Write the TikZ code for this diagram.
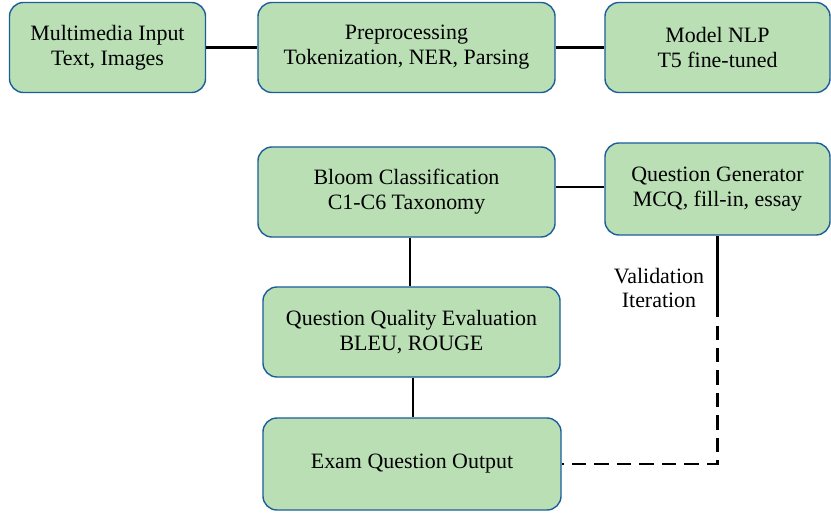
\documentclass[tikz,border=0pt]{standalone}
\usepackage{fontspec}
\setmainfont{LiberationSerif}[Extension=.ttf, UprightFont=*-Regular,
  BoldFont=*-Bold, ItalicFont=*-Italic, BoldItalicFont=*-BoldItalic]
\definecolor{boxFill}{HTML}{BADFB5}
\definecolor{boxEdge}{HTML}{1B5E9B}
\usepackage{tikz}
\usetikzlibrary{positioning, calc}

\tikzset{
  stage/.style={rounded corners=10pt, fill=boxFill, draw=boxEdge, line width=1pt,
    align=center, inner sep=2pt, minimum height=2.25cm,
    font=\fontsize{15.6}{17.7}\selectfont},
  link/.style={line width=1.9pt, black},
  loopback/.style={link, dash pattern=on 10pt off 6pt}
}

\begin{document}
\begin{tikzpicture}[x=0.025cm, y=-0.025cm]
  \useasboundingbox (0,0) rectangle (831,513);

  % top row
  \node[stage, minimum width=4.9cm] (input) at (107.5,47.5) {Multimedia Input\\Text, Images};
  \node[stage, minimum width=7.425cm] (prep) at (406.5,47.5) {Preprocessing\\Tokenization, NER, Parsing};
  \node[stage, minimum width=5.625cm] (model) at (717.5,47.5) {Model NLP\\T5 fine-tuned};

  % lower part
  \node[stage, minimum width=7.425cm] (bloom) at (406.5,192) {Bloom Classification\\C1-C6 Taxonomy};
  \node[stage, minimum width=5.625cm, minimum height=2.3cm] (qgen) at (717.5,189) {Question Generator\\MCQ, fill-in, essay};
  \node[stage, minimum width=7.425cm] (quality) at (411.5,332) {Question Quality Evaluation\\BLEU, ROUGE};
  \node[stage, minimum width=7.45cm, minimum height=2.3cm] (exam) at (412,464) {Exam Question Output};

  \node[align=center, font=\fontsize{15.6}{17.7}\selectfont] (vlabel) at (659,288) {Validation\\Iteration};
  \coordinate (vsplit) at (717.5,303);

  \draw[link] (input) -- (prep);
  \draw[link] (prep) -- (model);
  \draw[link] (bloom.east |- 0,187) -- (qgen.west |- 0,187);
  \draw[link] (bloom.south -| 410,0) -- (quality.north -| 410,0);
  \draw[link] (quality.south -| 413,0) -- (exam.north -| 413,0);
  \draw[link] (qgen.south) -- (vsplit);
  \draw[loopback] (vsplit) |- (exam.east);
\end{tikzpicture}
\end{document}
